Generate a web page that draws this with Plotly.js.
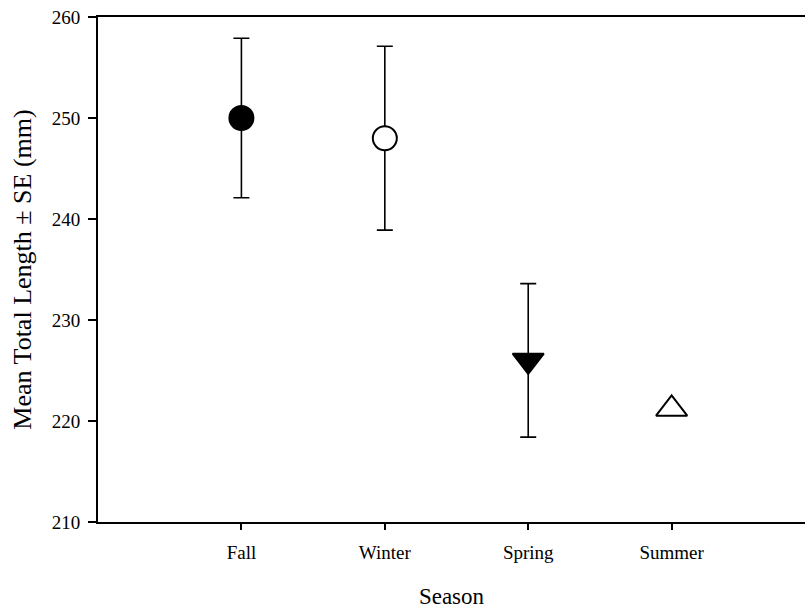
<!DOCTYPE html>
<html>
<head>
<meta charset="utf-8">
<script src="https://cdn.plot.ly/plotly-3.0.1.min.js"></script>
<style>html,body{margin:0;padding:0;background:#fff;}#chart{width:805px;height:609px;}</style>
</head>
<body>
<div id="chart"></div>
<script>
const seasons = ["Fall", "Winter", "Spring", "Summer"];
const positions = [1, 2, 3, 4];
const meanLength = [250.0, 248.0, 226.0, 221.2];
const seLength = [7.9, 9.1, 7.6, 0];
const markerSymbols = ["circle", "circle", "triangle-down", "triangle-up"];
const markerFills = ["black", "white", "black", "white"];
const markerSizes = [24, 24, 27, 27];
const yTicks = [210, 220, 230, 240, 250, 260];

const font = "Liberation Serif, Times New Roman, serif";

const withBars = [0, 1, 2];
const noBars = [3];
function pick(arr, idx) { return idx.map(i => arr[i]); }

const traces = [withBars, noBars].map((idx, k) => ({
  type: "scatter",
  mode: "markers",
  x: pick(positions, idx),
  y: pick(meanLength, idx),
  error_y: {type: "data", array: pick(seLength, idx), visible: k === 0, color: "black", thickness: 1.6, width: 8},
  marker: {symbol: pick(markerSymbols, idx), color: pick(markerFills, idx), size: pick(markerSizes, idx), opacity: 1,
           line: {color: "black", width: 2}},
  showlegend: false,
  hoverinfo: "skip"
}));

const layout = {
  width: 805, height: 609,
  paper_bgcolor: "white", plot_bgcolor: "white",
  margin: {l: 98, r: 0, t: 17, b: 87},
  font: {family: font, color: "black", size: 18},
  xaxis: {
    range: [0, 4.93],
    tickvals: positions, ticktext: seasons,
    ticks: "outside", ticklen: 6, tickwidth: 2, tickcolor: "black",
    ticklabelstandoff: 6,
    showline: true, linewidth: 2, linecolor: "black", mirror: true,
    showgrid: false, zeroline: false,
    tickfont: {family: font, size: 19},
    title: {text: "Season", font: {family: font, size: 23}, standoff: 27}
  },
  yaxis: {
    range: [210, 260],
    tickvals: yTicks,
    ticks: "outside", ticklen: 8, tickwidth: 2, tickcolor: "black",
    ticklabelstandoff: 4,
    showline: true, linewidth: 2, linecolor: "black",
    showgrid: false, zeroline: false,
    tickfont: {family: font, size: 19},
    title: {text: "Mean Total Length ± SE (mm)", font: {family: font, size: 26}, standoff: 13}
  }
};

Plotly.newPlot("chart", traces, layout, {displayModeBar: false, staticPlot: true});
</script>
</body>
</html>
